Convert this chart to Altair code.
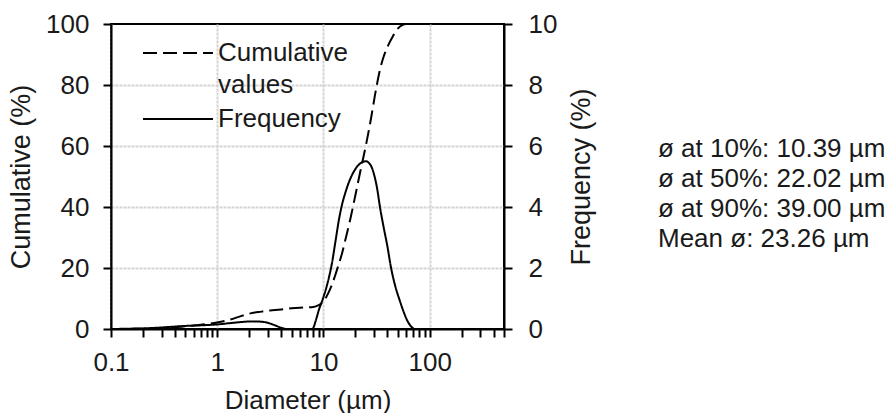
import altair as alt
import pandas as pd

# ---- data ----
freq_d = [0.1, 0.15, 0.2, 0.3, 0.4, 0.5, 0.7, 1.0, 1.3, 1.7, 2.1, 2.6, 3.0, 3.5, 4.0, 4.5,
          6.0, 7.8, 8.0, 8.5, 9.0, 10, 11, 12, 13, 14, 15, 16, 18, 20, 22, 25, 28, 30,
          32, 34, 37, 40, 43, 47, 52, 57, 62, 67, 72, 100, 200, 500]
freq_v = [0.0, 0.01, 0.02, 0.05, 0.08, 0.10, 0.12, 0.15, 0.19, 0.23, 0.25, 0.24, 0.20, 0.12, 0.04, 0.0,
          0.0, 0.0, 0.03, 0.30, 0.60, 1.05, 1.55, 2.15, 2.90, 3.60, 4.10, 4.45, 4.95, 5.25, 5.42, 5.50, 5.35, 5.05,
          4.60, 4.00, 3.30, 2.70, 2.05, 1.45, 0.95, 0.55, 0.25, 0.08, 0.0, 0.0, 0.0, 0.0]

cum_d = [0.1, 0.2, 0.3, 0.4, 0.5, 0.7, 1.0, 1.3, 1.7, 2.1, 2.6, 3.0, 3.5, 4.0, 5.0, 6.0, 7.0,
         8.0, 9.0, 10, 11, 12, 13, 14, 15, 16, 18, 20, 22, 25, 28, 31, 34, 37, 40, 45,
         50, 55, 60, 100, 200, 500]
cum_v = [0.0, 0.1, 0.3, 0.6, 0.9, 1.4, 2.1, 3.0, 4.3, 5.2, 5.7, 6.0, 6.2, 6.4, 6.8, 7.0, 7.1,
         7.2, 7.8, 9.0, 11.5, 14.5, 18.0, 21.5, 25.0, 29.0, 36.5, 44.0, 51.0, 60.0, 69.0, 78.0, 85.0, 89.5, 92.5, 96.0,
         98.5, 99.6, 100.0, 100.0, 100.0, 100.0]

x_tick_values = [0.1, 0.2, 0.3, 0.4, 0.5, 0.6, 0.7, 0.8, 0.9,
                 1, 2, 3, 4, 5, 6, 7, 8, 9,
                 10, 20, 30, 40, 50, 60, 70, 80, 90,
                 100, 200, 300, 400, 500]
x_labels = [0.1, 1, 10, 100]
cum_ticks = [0, 20, 40, 60, 80, 100]
freq_ticks = [0, 2, 4, 6, 8, 10]
series_names = ["Cumulative values", "Frequency"]
stat_lines = ["ø at 10%: 10.39 µm", "ø at 50%: 22.02 µm", "ø at 90%: 39.00 µm", "Mean ø: 23.26 µm"]

FONT = "Liberation Sans"
TXT = "#1a1a1a"
FS = 26
GRID = "#d4d4d4"
TICK = "black"

df_cum = pd.DataFrame({"d": cum_d, "v": cum_v, "series": series_names[0]})
df_freq = pd.DataFrame({"d": freq_d, "v": freq_v, "series": series_names[1]})

is_major = "indexof([" + ",".join(str(v) for v in x_labels) + "], datum.value) >= 0"

x_enc = alt.X(
    "d:Q",
    scale=alt.Scale(type="log", domain=[0.1, 500], nice=False),
    axis=alt.Axis(
        values=x_tick_values,
        labelExpr=f"({is_major}) ? format(datum.value, '~g') : ''",
        labelOverlap=False,
        labelFlush=False,
        title="Diameter (µm)",
        ticks=True,
        tickSize=8,
        tickColor=TICK,
        tickWidth=2,
        gridOpacity={"condition": {"test": is_major, "value": 1}, "value": 0},
        gridColor=GRID,
        gridWidth=2,
        gridDash=[3, 1],
        labelPadding=12,
        titlePadding=12,
    ),
)

dash_scale = alt.Scale(domain=series_names, range=[[14, 6], [1, 0]])
legend = alt.Legend(
    orient="none",
    legendX=48,
    legendY=10,
    title=None,
    symbolType="M-1.944,0H1.944",
    symbolSize=1296,
    symbolStrokeWidth=2,
    symbolStrokeColor="black",
    symbolFillColor="transparent",
    labelFont=FONT,
    labelFontSize=FS,
    labelColor=TXT,
    labelLimit=0,
    labelOffset=21,
    labelExpr="datum.label == 'Cumulative values' ? ['Cumulative', 'values'] : datum.label",
)

cum = alt.Chart(df_cum).mark_line(color="black", strokeWidth=2, interpolate="monotone", strokeCap="butt").encode(
    x=x_enc,
    y=alt.Y(
        "v:Q",
        scale=alt.Scale(domain=[0, 100], nice=False),
        axis=alt.Axis(
            orient="left",
            values=cum_ticks,
            title="Cumulative (%)",
            titleFontSize=27,
            grid=True,
            gridOpacity={"condition": {"test": "datum.value > 0 && datum.value < 100", "value": 1}, "value": 0},
            gridColor=GRID,
            gridWidth=2,
            gridDash=[3, 1],
            ticks=True,
            tickSize=8,
            tickColor=TICK,
            tickWidth=2,
            labelPadding=14,
            titlePadding=10,
        ),
    ),
    strokeDash=alt.StrokeDash("series:N", scale=dash_scale, legend=legend),
)

freq = alt.Chart(df_freq).mark_line(color="black", strokeWidth=2, interpolate="monotone").encode(
    x=x_enc,
    y=alt.Y(
        "v:Q",
        scale=alt.Scale(domain=[0, 10], nice=False),
        axis=alt.Axis(
            orient="right",
            values=freq_ticks,
            title="Frequency (%)",
            titleFontSize=27,
            titleAngle=270,
            titleBaseline="top",
            grid=False,
            ticks=True,
            tickSize=8,
            tickColor=TICK,
            tickWidth=2,
            labelPadding=16,
            titlePadding=12,
        ),
    ),
    strokeDash=alt.StrokeDash("series:N", scale=dash_scale, legend=legend),
)

stats = alt.Chart(alt.Data(values=[{}])).mark_text(
    align="left", baseline="alphabetic", font=FONT, fontSize=FS, lineHeight=30, color=TXT
).encode(
    x=alt.value(547),
    y=alt.value(133),
    text=alt.value(stat_lines),
)

chart = (
    alt.layer(cum, freq, stats)
    .resolve_scale(y="independent")
    .properties(
        width=393,
        height=305,
        autosize=alt.AutoSizeParams(type="none"),
        padding={"left": 111, "top": 24, "right": 389, "bottom": 84},
        background="white",
    )
    .configure(style={"guide-label": {"lineHeight": 32}})
    .configure_view(stroke="black", strokeWidth=2)
    .configure_axis(
        labelFont=FONT,
        titleFont=FONT,
        labelFontSize=FS,
        titleFontSize=FS,
        labelColor=TXT,
        titleColor=TXT,
        titleFontWeight="normal",
        domainColor="black",
        domainWidth=2,
        tickWidth=2,
        ticks=True,
    )
)

chart.save("out.html", embed_options={"renderer": "svg", "actions": False})
